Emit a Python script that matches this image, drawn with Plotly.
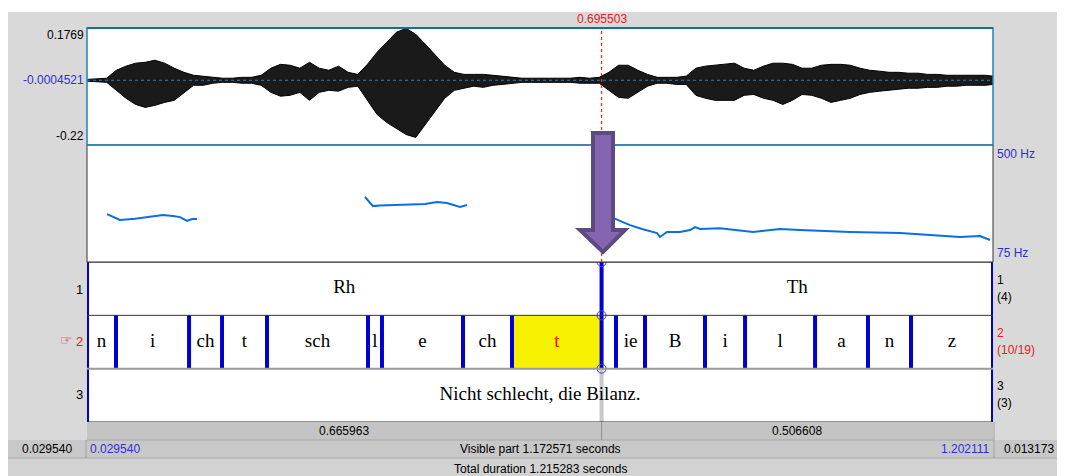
import plotly.graph_objects as go

# ---------------- data ----------------
t_start, t_end = 0.029540, 1.202111
cursor = 0.695503
visible_dur = 1.172571
total_dur = 1.215283
right_rest = 0.013173
seg_left, seg_right = 0.665963, 0.506608
wave_top, wave_mid, wave_bot = 0.1769, -0.0004521, -0.22
pitch_floor, pitch_ceiling = 75, 500

wave_t = [0.0300, 0.0425, 0.0550, 0.0675, 0.0800, 0.0925, 0.1050, 0.1175, 0.1300, 0.1425,
          0.1550, 0.1675, 0.1800, 0.1925, 0.2050, 0.2175, 0.2300, 0.2425, 0.2550, 0.2675,
          0.2800, 0.2925, 0.3050, 0.3175, 0.3300, 0.3425, 0.3550, 0.3675, 0.3800, 0.3925,
          0.4050, 0.4175, 0.4300, 0.4425, 0.4550, 0.4675, 0.4800, 0.4925, 0.5050, 0.5175,
          0.5300, 0.5425, 0.5550, 0.5675, 0.5800, 0.5925, 0.6050, 0.6175, 0.6300, 0.6425,
          0.6550, 0.6675, 0.6800, 0.6925, 0.7050, 0.7175, 0.7300, 0.7425, 0.7550, 0.7675,
          0.7800, 0.7925, 0.8050, 0.8175, 0.8300, 0.8425, 0.8550, 0.8675, 0.8800, 0.8925,
          0.9050, 0.9175, 0.9300, 0.9425, 0.9550, 0.9675, 0.9800, 0.9925, 1.0050, 1.0175,
          1.0300, 1.0425, 1.0550, 1.0675, 1.0800, 1.0925, 1.1050, 1.1175, 1.1300, 1.1425,
          1.1550, 1.1675, 1.1800, 1.1925, 1.2021]
wave_hi = [0.003, 0.005, 0.007, 0.034, 0.048, 0.058, 0.061, 0.068, 0.058, 0.041,
           0.027, 0.017, 0.014, 0.010, 0.007, 0.007, 0.010, 0.010, 0.017, 0.041,
           0.054, 0.051, 0.041, 0.061, 0.041, 0.034, 0.048, 0.027, 0.020, 0.054,
           0.095, 0.129, 0.163, 0.176, 0.156, 0.122, 0.085, 0.051, 0.027, 0.020,
           0.020, 0.020, 0.017, 0.014, 0.010, 0.007, 0.007, 0.007, 0.005, 0.007,
           0.007, 0.010, 0.007, 0.010, 0.027, 0.051, 0.051, 0.034, 0.020, 0.010,
           0.010, 0.010, 0.014, 0.041, 0.048, 0.051, 0.054, 0.058, 0.041, 0.034,
           0.048, 0.058, 0.058, 0.054, 0.041, 0.041, 0.051, 0.054, 0.054, 0.051,
           0.041, 0.034, 0.031, 0.027, 0.027, 0.024, 0.024, 0.020, 0.020, 0.017,
           0.017, 0.017, 0.017, 0.017, 0.014]
wave_lo = [0.003, 0.005, 0.007, 0.034, 0.061, 0.082, 0.092, 0.085, 0.075, 0.068,
           0.044, 0.017, 0.017, 0.010, 0.007, 0.007, 0.010, 0.010, 0.017, 0.041,
           0.054, 0.051, 0.041, 0.068, 0.041, 0.034, 0.037, 0.024, 0.020, 0.068,
           0.116, 0.143, 0.163, 0.184, 0.194, 0.150, 0.109, 0.061, 0.034, 0.027,
           0.020, 0.024, 0.017, 0.014, 0.010, 0.007, 0.007, 0.007, 0.005, 0.007,
           0.007, 0.010, 0.010, 0.010, 0.034, 0.058, 0.061, 0.041, 0.020, 0.010,
           0.010, 0.014, 0.014, 0.051, 0.061, 0.068, 0.068, 0.068, 0.051, 0.048,
           0.061, 0.068, 0.082, 0.068, 0.048, 0.051, 0.061, 0.075, 0.068, 0.061,
           0.048, 0.041, 0.037, 0.034, 0.031, 0.027, 0.027, 0.024, 0.024, 0.020,
           0.020, 0.017, 0.017, 0.017, 0.014]

pitch1_t = [0.0554, 0.0632, 0.0722, 0.0917, 0.1111, 0.1279, 0.1408, 0.1499, 0.1590, 0.1654, 0.1719]
pitch1_f = [249, 240, 228, 232, 240, 246, 242, 238, 224, 231, 231]
pitch2_t = [0.3893, 0.3932, 0.3997, 0.4087, 0.4281, 0.4514, 0.4670, 0.4825, 0.4955, 0.5123, 0.5213]
pitch2_f = [311, 300, 278, 280, 282, 282, 286, 293, 289, 275, 282]
pitch3_t = [0.7103, 0.7220, 0.7323, 0.7479, 0.7582, 0.7673, 0.7711, 0.7802, 0.7970, 0.8100, 0.8164,
            0.8229, 0.8488, 0.8915, 0.9264, 0.9523, 1.0170, 1.0817, 1.1206, 1.1593, 1.1852, 1.1982]
pitch3_f = [235, 222, 209, 195, 188, 180, 166, 184, 184, 191, 202,
            195, 198, 184, 195, 191, 184, 180, 173, 166, 169, 155]

tier1_bounds = [cursor]
tier1_labels = ["Rh", "Th"]
tier2_bounds = [0.0671, 0.1616, 0.2043, 0.2625, 0.3932, 0.4113, 0.5162, 0.5796, cursor,
                0.7142, 0.7517, 0.8294, 0.8812, 0.9718, 1.0403, 1.0960]
tier2_labels = ["n", "i", "ch", "t", "sch", "l", "e", "ch", "t", "", "ie", "B", "i", "l", "a", "n", "z"]
tier2_selected = 8
tier3_labels = ["Nicht schlecht, die Bilanz."]
tier_names = ["1", "2", "3"]
tier_counts = ["(4)", "(10/19)", "(3)"]

# ---------------- layout helpers ----------------
# the page has an 8px body margin, so the figure is placed at (8, 8)
OX, OY = 8, 8
W, H = 1057, 468
SANS = "Liberation Sans, Arial, sans-serif"
SERIF = "Liberation Serif, Times New Roman, serif"


def px(x):
    return (x - OX) / W


def py(y):
    return 1 - (y - OY) / H


fig = go.Figure()
shapes = []


def rect(x0, y0, x1, y1, fill, line=None, lw=0, layer="below"):
    shapes.append(dict(type="rect", xref="paper", yref="paper", x0=px(x0), x1=px(x1),
                       y0=py(y1), y1=py(y0), fillcolor=fill, layer=layer,
                       line=dict(color=line or fill, width=lw)))


def hline(x0, x1, y, color, width=1, layer="above"):
    shapes.append(dict(type="line", xref="paper", yref="paper", x0=px(x0), x1=px(x1),
                       y0=py(y), y1=py(y), layer=layer, line=dict(color=color, width=width)))


def vline(x, y0, y1, color, width=1, layer="above"):
    shapes.append(dict(type="line", xref="paper", yref="paper", x0=px(x), x1=px(x),
                       y0=py(y0), y1=py(y1), layer=layer, line=dict(color=color, width=width)))


def txt(x, y, s, color="black", size=12, family=SANS, xanchor="center"):
    fig.add_annotation(x=px(x), y=py(y), xref="paper", yref="paper", text=s, showarrow=False,
                       font=dict(color=color, size=size, family=family),
                       xanchor=xanchor, yanchor="middle", borderpad=0)


# background panels
rect(8, 12, 1065, 476, "#d9d9d9")
rect(87, 28, 993, 422, "white")
rect(87, 422, 993, 440, "#c4c4c4")
rect(8, 440, 1065, 458, "#c8c8c8")
rect(8, 458, 1065, 476, "#d2d2d2")
hline(87, 993, 440, "#a8a8a8", 1, "below")
hline(8, 1065, 458, "#a8a8a8", 1, "below")
vline(86, 440, 458, "#a0a0a0", 1, "below")
vline(994, 422, 458, "#a0a0a0", 1, "below")

# pitch panel border
rect(87, 145, 993, 262, "rgba(0,0,0,0)", "#333333", 1, "above")
# waveform border
rect(87, 28, 993, 145, "rgba(0,0,0,0)", "#1f82b4", 1.5, "above")
hline(87, 993, 28, "#16709c", 2)

# ---------------- waveform ----------------
fig.add_trace(go.Scatter(x=wave_t, y=[wave_mid + v for v in wave_hi], mode="lines",
                         line=dict(color="black", width=1), xaxis="x", yaxis="y",
                         hoverinfo="skip", showlegend=False))
fig.add_trace(go.Scatter(x=wave_t, y=[wave_mid - v for v in wave_lo], mode="lines",
                         line=dict(color="black", width=1), fill="tonexty", fillcolor="#1a1a1a",
                         xaxis="x", yaxis="y", hoverinfo="skip", showlegend=False))
fig.add_trace(go.Scatter(x=[t_start, t_end], y=[wave_mid, wave_mid], mode="lines",
                         line=dict(color="#2a7fc0", width=1, dash="dot"), xaxis="x", yaxis="y",
                         hoverinfo="skip", showlegend=False))

# ---------------- pitch ----------------
for pt, pf in [(pitch1_t, pitch1_f), (pitch2_t, pitch2_f), (pitch3_t, pitch3_f)]:
    fig.add_trace(go.Scatter(x=pt, y=pf, mode="lines", line=dict(color="#0a6fe0", width=2),
                             xaxis="x", yaxis="y2", hoverinfo="skip", showlegend=False))

# ---------------- textgrid ----------------
edges2 = [t_start] + tier2_bounds + [t_end]
shapes.append(dict(type="rect", xref="x", yref="y3", x0=edges2[tier2_selected],
                   x1=edges2[tier2_selected + 1], y0=1, y1=2, fillcolor="#f7f000",
                   line=dict(width=0), layer="below"))
for yv, col, w in [(3, "#222222", 1), (2, "#333333", 1), (1, "#9a9a9a", 2), (0, "#222222", 1)]:
    shapes.append(dict(type="line", xref="x", yref="y3", x0=t_start, x1=t_end, y0=yv, y1=yv,
                       line=dict(color=col, width=w), layer="above"))
shapes.append(dict(type="line", xref="x", yref="y3", x0=cursor, x1=cursor, y0=0, y1=1,
                   line=dict(color="#c8c8c8", width=4), layer="below"))
shapes.append(dict(type="line", xref="x", yref="paper", x0=cursor, x1=cursor,
                   y0=py(440), y1=py(422), line=dict(color="#909090", width=1), layer="below"))
shapes.append(dict(type="line", xref="x", yref="paper", x0=cursor, x1=cursor,
                   y0=py(262), y1=py(29), line=dict(color="#ff2a2a", width=1.3, dash="dot"),
                   layer="above"))

bx, by = [], []
for b in tier2_bounds:
    bx += [b, b, None]
    by += [1, 2, None]
for b in tier1_bounds:
    bx += [b, b, None]
    by += [2, 3, None]
for b in [t_start, t_end]:
    bx += [b, b, None]
    by += [0, 3, None]
fig.add_trace(go.Scatter(x=bx, y=by, mode="lines", line=dict(color="#0000d0", width=4),
                         xaxis="x", yaxis="y3", hoverinfo="skip", showlegend=False))
fig.add_trace(go.Scatter(x=[cursor] * 3, y=[3, 2, 1], mode="markers",
                         marker=dict(symbol="circle-open", size=9, color="#3a3aff",
                                     line=dict(width=1)),
                         xaxis="x", yaxis="y3", hoverinfo="skip", showlegend=False))

edges1 = [t_start] + tier1_bounds + [t_end]
lab_x, lab_y, lab_t, lab_c = [], [], [], []
for i, s in enumerate(tier1_labels):
    lab_x.append((edges1[i] + edges1[i + 1]) / 2); lab_y.append(2.5); lab_t.append(s); lab_c.append("black")
for i, s in enumerate(tier2_labels):
    lab_x.append((edges2[i] + edges2[i + 1]) / 2); lab_y.append(1.5); lab_t.append(s)
    lab_c.append("#ff0000" if i == tier2_selected else "black")
for s in tier3_labels:
    lab_x.append((t_start + t_end) / 2); lab_y.append(0.5); lab_t.append(s); lab_c.append("black")
fig.add_trace(go.Scatter(x=lab_x, y=lab_y, mode="text", text=lab_t,
                         textfont=dict(family=SERIF, size=19, color=lab_c),
                         xaxis="x", yaxis="y3", hoverinfo="skip", showlegend=False))

# purple arrow (annotation graphic, page pixels)
arrow = [("M", 593, 133), ("L", 613, 133), ("L", 613, 230), ("L", 625, 230),
         ("L", 603, 252), ("L", 580, 230), ("L", 593, 230)]
path = " ".join(f"{c} {px(x):.5f},{py(y):.5f}" for c, x, y in arrow) + " Z"
shapes.append(dict(type="path", xref="paper", yref="paper", path=path,
                   fillcolor="#8466b0", line=dict(color="#5d4a80", width=4), layer="above"))

# ---------------- texts ----------------
txt(601.6, 19, f"{cursor:.6f}", "#e02020")
txt(85, 35, f"{wave_top:g}", xanchor="right")
txt(85, 80, f"{wave_mid:.7f}", "#3030d0", xanchor="right")
txt(85, 136, f"{wave_bot:g}", xanchor="right")
txt(996, 154, f"{pitch_ceiling} Hz", "#3030c0", xanchor="left")
txt(996, 253, f"{pitch_floor} Hz", "#3030c0", xanchor="left")

txt(84, 289, tier_names[0], size=13, xanchor="right")
txt(84, 341, tier_names[1], "#e02020", size=13, xanchor="right")
txt(74, 340, "☞", "#e02020", size=14, family="DejaVu Sans", xanchor="right")
txt(84, 394, tier_names[2], size=13, xanchor="right")
for name, cnt, yy, col in [(tier_names[0], tier_counts[0], 280, "black"),
                           (tier_names[1], tier_counts[1], 333, "#e02020"),
                           (tier_names[2], tier_counts[2], 386, "black")]:
    txt(996, yy, name, col, xanchor="left")
    txt(996, yy + 17, cnt, col, xanchor="left")

txt(344, 431, f"{seg_left:.6f}")
txt(797, 431, f"{seg_right:.6f}")
txt(47, 449, f"{t_start:.6f}")
txt(89, 449, f"{t_start:.6f}", "#3030d0", xanchor="left")
txt(540, 449, f"Visible part {visible_dur:.6f} seconds")
txt(991, 449, f"{t_end:.6f}", "#3030d0", xanchor="right")
txt(1029, 449, f"{right_rest:.6f}")
txt(540, 469, f"Total duration {total_dur:.6f} seconds")

ax_common = dict(visible=False, fixedrange=True)
fig.update_layout(
    width=W, height=H, autosize=False,
    margin=dict(l=0, r=0, t=0, b=0),
    paper_bgcolor="white", plot_bgcolor="rgba(0,0,0,0)",
    showlegend=False,
    xaxis=dict(domain=[px(87), px(993)], range=[t_start, t_end], anchor="y", **ax_common),
    yaxis=dict(domain=[py(145), py(28)], range=[wave_bot, wave_top], anchor="x", **ax_common),
    yaxis2=dict(domain=[py(262), py(145)], range=[pitch_floor, pitch_ceiling], anchor="x", **ax_common),
    yaxis3=dict(domain=[py(422), py(262)], range=[0, 3], anchor="x", **ax_common),
    shapes=shapes,
)

fig.write_html("out.html")
